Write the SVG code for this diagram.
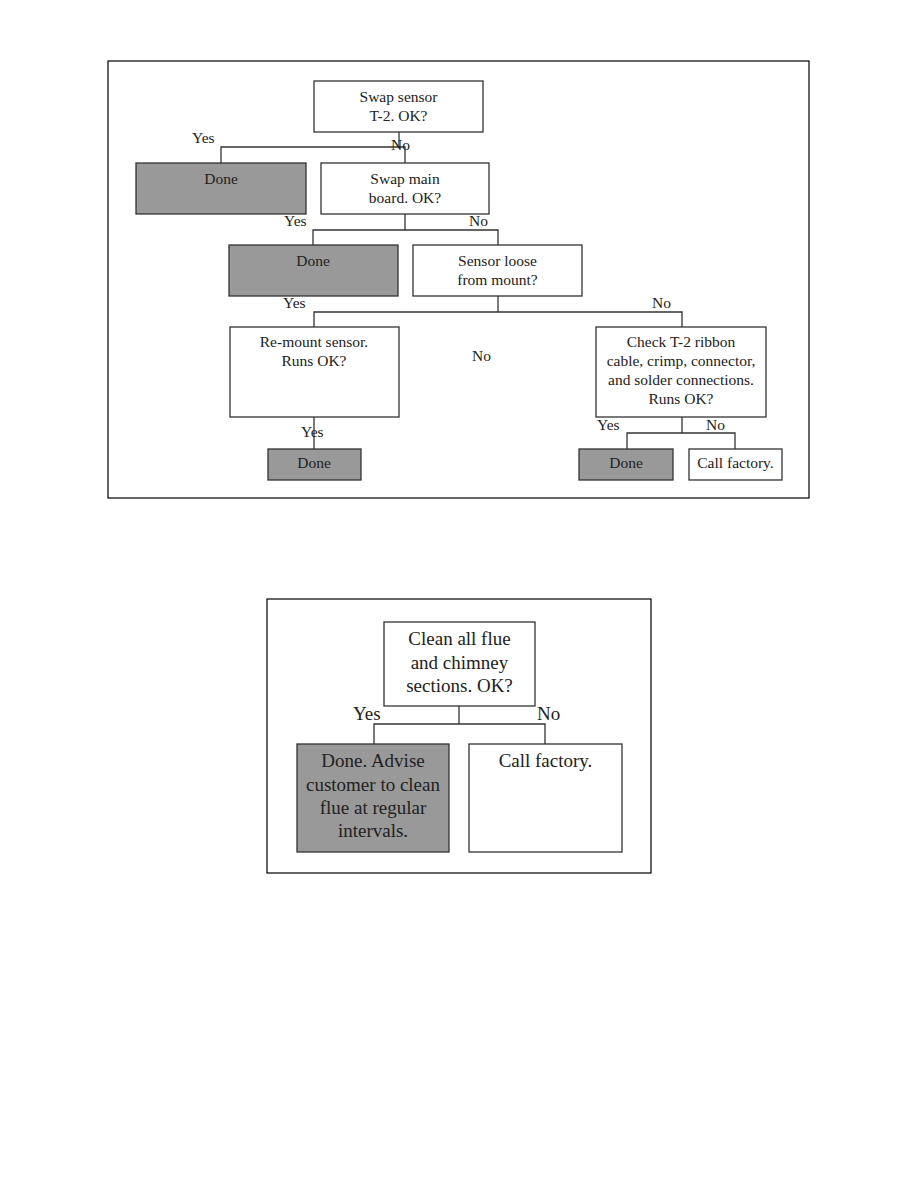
<svg xmlns="http://www.w3.org/2000/svg" width="918" height="1188" viewBox="0 0 918 1188">
<style>
.frame{fill:none;stroke:#000;stroke-width:1.2}
.box{fill:#fff;stroke:#333;stroke-width:1.3}
.done{fill:#999;stroke:#333;stroke-width:1.3}
.conn{fill:none;stroke:#333;stroke-width:1.3}
text{font-family:"Liberation Serif","Times New Roman",serif;fill:#222;text-anchor:middle}
.t1{font-size:15.5px}
.t2{font-size:19px}
.lbl{text-anchor:start}
</style>
<rect width="918" height="1188" fill="#fff"/>
<rect class="frame" x="108" y="61" width="701" height="437"/>
<rect class="frame" x="267" y="599" width="384" height="274"/>

<g id="connectors">
<polyline class="conn" points="399,132 399,147"/>
<polyline class="conn" points="221,163 221,147 405,147 405,163"/>
<polyline class="conn" points="405,214 405,230"/>
<polyline class="conn" points="313,245 313,230 498,230 498,245"/>
<polyline class="conn" points="498,296 498,312"/>
<polyline class="conn" points="314,327 314,312 682,312 682,327"/>
<polyline class="conn" points="314,417 314,449"/>
<polyline class="conn" points="682,417 682,433"/>
<polyline class="conn" points="627,449 627,433 735,433 735,449"/>
<polyline class="conn" points="459,706 459,724"/>
<polyline class="conn" points="374,744 374,724 545,724 545,744"/>
</g>

<g id="labels" class="t1">
<text class="lbl" x="192" y="143">Yes</text>
<text class="lbl" x="391" y="150">No</text>
<text class="lbl" x="284" y="226">Yes</text>
<text class="lbl" x="469" y="226">No</text>
<text class="lbl" x="283" y="308">Yes</text>
<text class="lbl" x="652" y="308">No</text>
<text class="lbl" x="472" y="361">No</text>
<text class="lbl" x="301" y="437">Yes</text>
<text class="lbl" x="597" y="430">Yes</text>
<text class="lbl" x="706" y="430">No</text>
</g>
<g id="labels2" class="t2">
<text class="lbl" x="353" y="720">Yes</text>
<text class="lbl" x="537" y="720">No</text>
</g>

<g id="n-swap-sensor" class="t1">
<rect class="box" x="314" y="81" width="169" height="51"/>
<text x="398.5" y="102">Swap sensor</text>
<text x="398.5" y="121">T-2. OK?</text>
</g>
<g id="n-done1" class="t1">
<rect class="done" x="136" y="163" width="170" height="51"/>
<text x="221" y="184">Done</text>
</g>
<g id="n-swap-main" class="t1">
<rect class="box" x="321" y="163" width="168" height="51"/>
<text x="405" y="184">Swap main</text>
<text x="405" y="203">board. OK?</text>
</g>
<g id="n-done2" class="t1">
<rect class="done" x="229" y="245" width="169" height="51"/>
<text x="313" y="266">Done</text>
</g>
<g id="n-sensor-loose" class="t1">
<rect class="box" x="413" y="245" width="169" height="51"/>
<text x="497.5" y="266">Sensor loose</text>
<text x="497.5" y="285">from mount?</text>
</g>
<g id="n-remount" class="t1">
<rect class="box" x="230" y="327" width="169" height="90"/>
<text x="314" y="347">Re-mount sensor.</text>
<text x="314" y="366">Runs OK?</text>
</g>
<g id="n-check" class="t1">
<rect class="box" x="596" y="327" width="170" height="90"/>
<text x="681" y="347">Check T-2 ribbon</text>
<text x="681" y="366">cable, crimp, connector,</text>
<text x="681" y="385">and solder connections.</text>
<text x="681" y="404">Runs OK?</text>
</g>
<g id="n-done3" class="t1">
<rect class="done" x="268" y="449" width="93" height="31"/>
<text x="314" y="468">Done</text>
</g>
<g id="n-done4" class="t1">
<rect class="done" x="579" y="449" width="94" height="31"/>
<text x="626" y="468">Done</text>
</g>
<g id="n-call1" class="t1">
<rect class="box" x="689" y="449" width="93" height="31"/>
<text x="735.5" y="468">Call factory.</text>
</g>

<g id="n-clean" class="t2">
<rect class="box" x="384" y="622" width="151" height="84"/>
<text x="459.5" y="645">Clean all flue</text>
<text x="459.5" y="669">and chimney</text>
<text x="459.5" y="692">sections. OK?</text>
</g>
<g id="n-done5" class="t2">
<rect class="done" x="297" y="744" width="152" height="108"/>
<text x="373" y="767">Done. Advise</text>
<text x="373" y="791">customer to clean</text>
<text x="373" y="814">flue at regular</text>
<text x="373" y="837">intervals.</text>
</g>
<g id="n-call2" class="t2">
<rect class="box" x="469" y="744" width="153" height="108"/>
<text x="545.5" y="767">Call factory.</text>
</g>
</svg>
